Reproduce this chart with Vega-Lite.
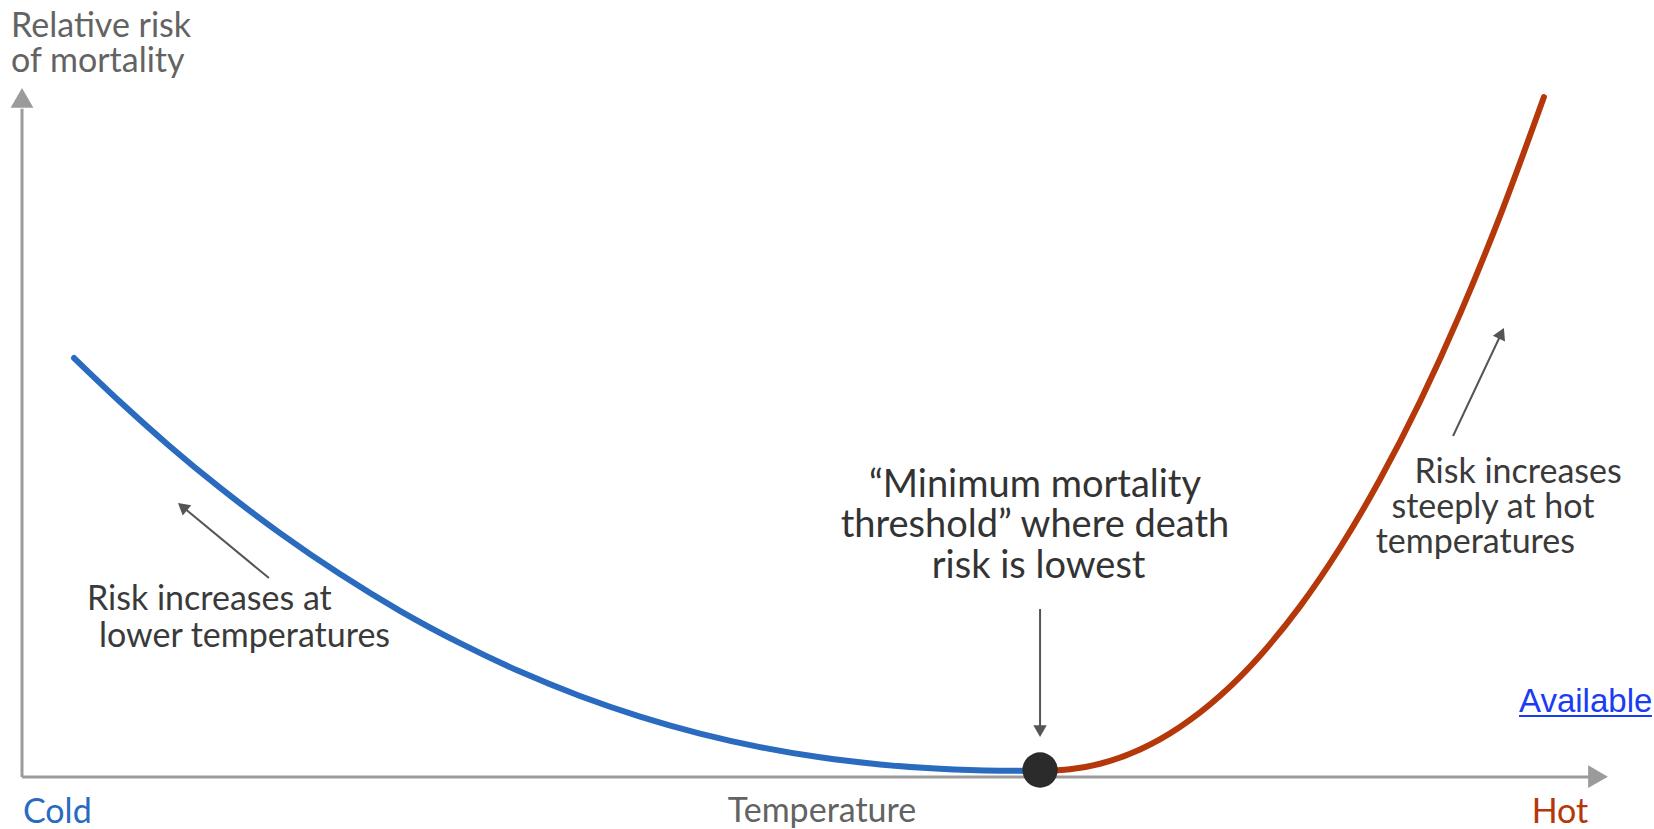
{
  "$schema": "https://vega.github.io/schema/vega-lite/v6.json",
  "width": 1586,
  "height": 689,
  "autosize": {"type": "none"},
  "padding": {"left": 22, "top": 88, "right": 46, "bottom": 52},
  "background": "white",
  "config": {"view": {"stroke": null}, "font": "Lato"},
  "datasets": {
    "curve": [
      {"t": 3.28, "risk": 60.81, "side": "cold"},
      {"t": 6.18, "risk": 54.46, "side": "cold"},
      {"t": 9.33, "risk": 47.98, "side": "cold"},
      {"t": 12.48, "risk": 41.99, "side": "cold"},
      {"t": 16.27, "risk": 35.4, "side": "cold"},
      {"t": 20.05, "risk": 29.45, "side": "cold"},
      {"t": 23.83, "risk": 24.12, "side": "cold"},
      {"t": 27.62, "risk": 19.42, "side": "cold"},
      {"t": 31.4, "risk": 15.3, "side": "cold"},
      {"t": 35.18, "risk": 11.76, "side": "cold"},
      {"t": 38.97, "risk": 8.77, "side": "cold"},
      {"t": 42.75, "risk": 6.3, "side": "cold"},
      {"t": 46.53, "risk": 4.34, "side": "cold"},
      {"t": 50.32, "risk": 2.86, "side": "cold"},
      {"t": 54.1, "risk": 1.83, "side": "cold"},
      {"t": 57.88, "risk": 1.19, "side": "cold"},
      {"t": 61.66, "risk": 0.91, "side": "cold"},
      {"t": 64.19, "risk": 0.87, "side": "cold"},
      {"t": 64.19, "risk": 0.87, "side": "hot"},
      {"t": 66.08, "risk": 1.12, "side": "hot"},
      {"t": 67.97, "risk": 1.92, "side": "hot"},
      {"t": 70.49, "risk": 3.99, "side": "hot"},
      {"t": 73.01, "risk": 7.26, "side": "hot"},
      {"t": 75.54, "risk": 11.79, "side": "hot"},
      {"t": 78.06, "risk": 17.61, "side": "hot"},
      {"t": 80.58, "risk": 24.76, "side": "hot"},
      {"t": 83.1, "risk": 33.27, "side": "hot"},
      {"t": 85.62, "risk": 43.18, "side": "hot"},
      {"t": 88.15, "risk": 54.5, "side": "hot"},
      {"t": 90.67, "risk": 67.21, "side": "hot"},
      {"t": 93.19, "risk": 81.41, "side": "hot"},
      {"t": 95.96, "risk": 98.69, "side": "hot"}
    ],
    "axislines": [
      {"x": 0, "y": 0, "x2": 99.0, "y2": 0},
      {"x": 0, "y": 0, "x2": 0, "y2": 97.0}
    ],
    "axisheads": [
      {"x": 0, "y": 98.55, "angle": 0},
      {"x": 99.37, "y": 0.05, "angle": 90}
    ],
    "arrows": [
      {"x": 15.57, "y": 28.88, "x2": 10.12, "y2": 39.23},
      {"x": 90.23, "y": 49.49, "x2": 93.28, "y2": 64.4},
      {"x": 64.19, "y": 24.38, "x2": 64.19, "y2": 6.65}
    ],
    "arrowheads": [
      {"x": 10.12, "y": 39.23, "angle": 309.5},
      {"x": 93.28, "y": 64.4, "angle": 25.1},
      {"x": 64.19, "y": 6.65, "angle": 180}
    ],
    "minimum": [
      {"t": 64.19, "risk": 1.02}
    ],
    "underline": [
      {"x": 94.39, "x2": 102.77, "y": 8.85}
    ],
    "labels": [
      {"g": "ytitle", "x": -0.69, "y": 107.4, "label": "Relative risk"},
      {"g": "ytitle", "x": -0.69, "y": 102.32, "label": "of mortality"},
      {"g": "cold", "x": 0.06, "y": -6.68, "label": "Cold"},
      {"g": "temp", "x": 50.44, "y": -6.53, "label": "Temperature"},
      {"g": "hot", "x": 96.97, "y": -6.68, "label": "Hot"},
      {"g": "note", "x": 4.1, "y": 24.24, "label": "Risk increases at"},
      {"g": "note", "x": 4.85, "y": 18.87, "label": "lower temperatures"},
      {"g": "note", "x": 87.8, "y": 42.67, "label": "Risk increases"},
      {"g": "note", "x": 86.35, "y": 37.59, "label": "steeply at hot"},
      {"g": "note", "x": 85.35, "y": 32.51, "label": "temperatures"},
      {"g": "min", "x": 63.87, "y": 40.64, "label": "“Minimum mortality"},
      {"g": "min", "x": 63.87, "y": 34.83, "label": "threshold” where death"},
      {"g": "min", "x": 64.1, "y": 28.88, "label": "risk is lowest"},
      {"g": "link", "x": 94.39, "y": 9.43, "label": "Available"}
    ]
  },
  "layer": [
    {
      "data": {"name": "axislines"},
      "mark": {"type": "rule", "color": "#9b9b9b", "strokeWidth": 3},
      "encoding": {
        "x": {"field": "x", "type": "quantitative", "scale": {"domain": [0, 100], "nice": false, "zero": false}, "axis": null},
        "y": {"field": "y", "type": "quantitative", "scale": {"domain": [0, 100], "nice": false, "zero": false}, "axis": null},
        "x2": {"field": "x2"},
        "y2": {"field": "y2"}
      }
    },
    {
      "data": {"name": "axisheads"},
      "mark": {"type": "point", "shape": "triangle-up", "filled": true, "opacity": 1, "color": "#9b9b9b", "size": 520},
      "encoding": {
        "x": {"field": "x", "type": "quantitative", "axis": null},
        "y": {"field": "y", "type": "quantitative", "axis": null},
        "angle": {"field": "angle", "type": "quantitative", "scale": null}
      }
    },
    {
      "data": {"name": "arrows"},
      "mark": {"type": "rule", "color": "#555555", "strokeWidth": 2},
      "encoding": {
        "x": {"field": "x", "type": "quantitative", "axis": null},
        "y": {"field": "y", "type": "quantitative", "axis": null},
        "x2": {"field": "x2"},
        "y2": {"field": "y2"}
      }
    },
    {
      "data": {"name": "arrowheads"},
      "mark": {"type": "point", "shape": "triangle-up", "filled": true, "opacity": 1, "color": "#555555", "size": 180},
      "encoding": {
        "x": {"field": "x", "type": "quantitative", "axis": null},
        "y": {"field": "y", "type": "quantitative", "axis": null},
        "angle": {"field": "angle", "type": "quantitative", "scale": null}
      }
    },
    {
      "data": {"name": "curve"},
      "mark": {"type": "line", "strokeWidth": 6, "strokeCap": "round", "interpolate": "monotone"},
      "encoding": {
        "x": {"field": "t", "type": "quantitative", "axis": null},
        "y": {"field": "risk", "type": "quantitative", "axis": null},
        "color": {"field": "side", "type": "nominal", "scale": {"domain": ["cold", "hot"], "range": ["#2a6bbf", "#b5380a"]}, "legend": null}
      }
    },
    {
      "data": {"name": "minimum"},
      "mark": {"type": "point", "shape": "circle", "filled": true, "opacity": 1, "color": "#2b2b2b", "size": 1250},
      "encoding": {
        "x": {"field": "t", "type": "quantitative", "axis": null},
        "y": {"field": "risk", "type": "quantitative", "axis": null}
      }
    },
    {
      "data": {"name": "underline"},
      "mark": {"type": "rule", "color": "#1a3cf5", "strokeWidth": 2},
      "encoding": {
        "x": {"field": "x", "type": "quantitative", "axis": null},
        "x2": {"field": "x2"},
        "y": {"field": "y", "type": "quantitative", "axis": null}
      }
    },
    {
      "data": {"name": "labels"},
      "transform": [{"filter": "datum.g === 'ytitle'"}],
      "mark": {"type": "text", "align": "left", "baseline": "alphabetic", "fontSize": 34, "color": "#636363"},
      "encoding": {
        "x": {"field": "x", "type": "quantitative", "axis": null},
        "y": {"field": "y", "type": "quantitative", "axis": null},
        "text": {"field": "label"}
      }
    },
    {
      "data": {"name": "labels"},
      "transform": [{"filter": "datum.g === 'cold'"}],
      "mark": {"type": "text", "align": "left", "baseline": "alphabetic", "fontSize": 34, "color": "#2a6bbf"},
      "encoding": {
        "x": {"field": "x", "type": "quantitative", "axis": null},
        "y": {"field": "y", "type": "quantitative", "axis": null},
        "text": {"field": "label"}
      }
    },
    {
      "data": {"name": "labels"},
      "transform": [{"filter": "datum.g === 'temp'"}],
      "mark": {"type": "text", "align": "center", "baseline": "alphabetic", "fontSize": 34, "color": "#636363"},
      "encoding": {
        "x": {"field": "x", "type": "quantitative", "axis": null},
        "y": {"field": "y", "type": "quantitative", "axis": null},
        "text": {"field": "label"}
      }
    },
    {
      "data": {"name": "labels"},
      "transform": [{"filter": "datum.g === 'hot'"}],
      "mark": {"type": "text", "align": "center", "baseline": "alphabetic", "fontSize": 34, "color": "#b5380a"},
      "encoding": {
        "x": {"field": "x", "type": "quantitative", "axis": null},
        "y": {"field": "y", "type": "quantitative", "axis": null},
        "text": {"field": "label"}
      }
    },
    {
      "data": {"name": "labels"},
      "transform": [{"filter": "datum.g === 'note'"}],
      "mark": {"type": "text", "align": "left", "baseline": "alphabetic", "fontSize": 34, "color": "#3a3a3a"},
      "encoding": {
        "x": {"field": "x", "type": "quantitative", "axis": null},
        "y": {"field": "y", "type": "quantitative", "axis": null},
        "text": {"field": "label"}
      }
    },
    {
      "data": {"name": "labels"},
      "transform": [{"filter": "datum.g === 'min'"}],
      "mark": {"type": "text", "align": "center", "baseline": "alphabetic", "fontSize": 38, "color": "#333333"},
      "encoding": {
        "x": {"field": "x", "type": "quantitative", "axis": null},
        "y": {"field": "y", "type": "quantitative", "axis": null},
        "text": {"field": "label"}
      }
    },
    {
      "data": {"name": "labels"},
      "transform": [{"filter": "datum.g === 'link'"}],
      "mark": {"type": "text", "align": "left", "baseline": "alphabetic", "fontSize": 33, "font": "Liberation Sans", "color": "#1a3cf5"},
      "encoding": {
        "x": {"field": "x", "type": "quantitative", "axis": null},
        "y": {"field": "y", "type": "quantitative", "axis": null},
        "text": {"field": "label"}
      }
    }
  ]
}
